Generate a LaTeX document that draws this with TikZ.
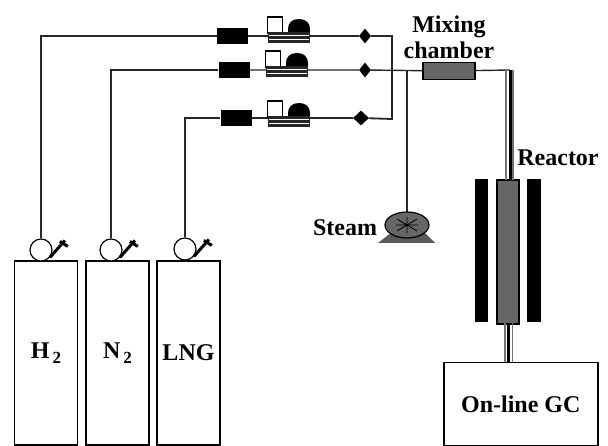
\documentclass[tikz,border=0pt]{standalone}
\usepackage{fontspec}
\setmainfont{Liberation Serif}
\usetikzlibrary{positioning,shapes.geometric}
\tikzset{
  x=1pt,y=-1pt,
  pipe/.style={line width=1.4pt,black!85},
  bottle/.style={draw,line width=1.5pt,minimum width=63pt,minimum height=184pt,inner sep=0pt,font=\bfseries\fontsize{24}{24}\selectfont},
  gauge/.style={circle,draw,line width=1.2pt,fill=white,minimum size=22pt,inner sep=0pt},
  handle/.style={line width=3pt},
  filter/.style={fill=black,minimum width=31pt,minimum height=16pt,inner sep=0pt},
  flowbox/.style={draw,fill=white,line width=1.2pt,minimum width=15pt,minimum height=16pt,inner sep=0pt},
  valve/.style={diamond,fill=black,minimum width=12pt,minimum height=15pt,inner sep=0pt},
  label/.style={font=\bfseries\fontsize{24}{26}\selectfont,align=center,inner sep=0pt},
  grayfill/.style={draw=black,line width=1.2pt,fill=black!60},
}
% flow meter: top box, dome and striped base, #1 = name, (#2,#3) = middle of the base
\newcommand{\flowmeter}[3]{
  \node[flowbox] (#1box) at (#2-14,#3-12) {};
  \fill[black] (#2-1,#3-4) -- (#2-1,#3-8) .. controls (#2-1,#3-14) and (#2+3,#3-18) .. (#2+10,#3-18) .. controls (#2+17,#3-18) and (#2+21,#3-14) .. (#2+21,#3-8) -- (#2+21,#3-4) -- cycle;
  \fill[black!85] (#2-21,#3-5) rectangle (#2+21,#3+6);
  \draw[white,line width=.7pt] (#2-20,#3-2) -- (#2+20,#3-2);
  \draw[white,line width=.7pt] (#2-20,#3+2) -- (#2+20,#3+2);
}
\begin{document}
\begin{tikzpicture}
  \useasboundingbox (0,0) rectangle (608,446);
  % bottles
  \node[bottle] (h2) at (46,353) {\raisebox{-2pt}{H\raisebox{-5pt}{\fontsize{17}{17}\selectfont\,2}}};
  \node[bottle] (n2) at (117.5,353) {\raisebox{-2pt}{N\raisebox{-5pt}{\fontsize{17}{17}\selectfont\,2}}};
  \node[bottle] (lng) at (188.5,353) {\raisebox{-2pt}{LNG}};
  \node[gauge] (gh2) at (41,250) {};
  \node[gauge] (gn2) at (111,250) {};
  \node[gauge] (glng) at (185,249) {};
  \draw[handle] (gh2.-40) -- ++(15,-17);
  \draw[handle] (gn2.-40) -- ++(15,-17);
  \draw[handle] (glng.-40) -- ++(15,-17);
  \draw[handle] (gh2.-40)++(10,-16) -- ++(8,5);
  \draw[handle] (gn2.-40)++(10,-16) -- ++(8,5);
  \draw[handle] (glng.-40)++(10,-16) -- ++(8,5);
  % filters, valves and the mixing chamber
  \node[filter] (fh2) at (232.5,36) {};
  \node[filter] (fn2) at (234,70) {};
  \node[filter] (flng) at (236,118) {};
  \node[valve] (vh2) at (365,36) {};
  \node[valve] (vn2) at (365,70) {};
  \node[valve,minimum width=16pt] (vlng) at (361,118) {};
  \coordinate (teeh2) at (392,36);
  \coordinate (teelng) at (392,119);
  \coordinate (teesteam) at (407,70);
  \coordinate (bend) at (510,70);
  \coordinate (tubetop) at (510,180);
  \coordinate (tubelow) at (508.5,323);
  \node[grayfill,minimum width=52pt,minimum height=17pt,inner sep=0pt] (mix) at (449,71) {};
  \node[grayfill,minimum width=22pt,minimum height=144pt,inner sep=0pt] (reactor) at (508,252) {};
  \node[fill=black,minimum width=13pt,minimum height=143pt,inner sep=0pt] (heatl) at (481.5,250.5) {};
  \node[fill=black,minimum width=14pt,minimum height=143pt,inner sep=0pt] (heatr) at (534,250.5) {};
  \node[draw,line width=1.5pt,minimum width=154pt,minimum height=83pt,inner sep=0pt,anchor=north west] (gc) at (443,362) {};
  % pipes
  \draw[pipe] (gh2.north) -- (gh2.north |- fh2) -- (fh2);
  \draw[pipe] (gn2.north) -- (gn2.north |- fn2) -- (fn2);
  \draw[pipe] (glng.north) -- (glng.north |- flng) -- (flng);
  \draw[pipe,line width=1.8pt] (fh2) -- (vh2) -- (teeh2) -- (teelng) -- (vlng) -- (flng);
  \draw[pipe] (fn2) -- (vn2) -- (mix);
  \draw[pipe] (teesteam) -- (407,212);
  \draw[pipe] (mix) -- (bend);
  \draw[line width=1.5pt,black!55] (506,70) -- (506,180);
  \draw[line width=3pt,black] (bend) -- (tubetop);
  \draw[line width=1.2pt,black!55] (513,70) -- (513,180);
  \draw[line width=1.5pt,black!55] (505,323) -- (505,362);
  \draw[line width=1.5pt,black!55] (512.5,323) -- (512.5,362);
  \draw[line width=3pt,black] (tubelow) -- (tubelow |- gc.north);
  % flow meters
  \flowmeter{mh2}{289}{37}
  \flowmeter{mn2}{287}{71}
  \flowmeter{mlng}{289}{121}
  % steam pump
  \fill[black!65] (378,243) -- (392,232) -- (424,232) -- (435,243) -- cycle;
  \node[ellipse,grayfill,minimum width=44pt,minimum height=26pt,inner sep=0pt] (steam) at (407,225) {};
  \draw[black,line width=.8pt] (397,219) -- (417,231) (397,231) -- (417,219) (407,217) -- (407,233) (396,225) -- (418,225);
  % texts
  \node[label] (mixlabel) at (449,37) {Mixing\\chamber};
  \node[label] (reactorlabel) at (558,158) {Reactor};
  \node[label] (steamlabel) at (345,228) {Steam};
  \node[label] (gclabel) at (gc) {On-line GC};
\end{tikzpicture}
\end{document}
